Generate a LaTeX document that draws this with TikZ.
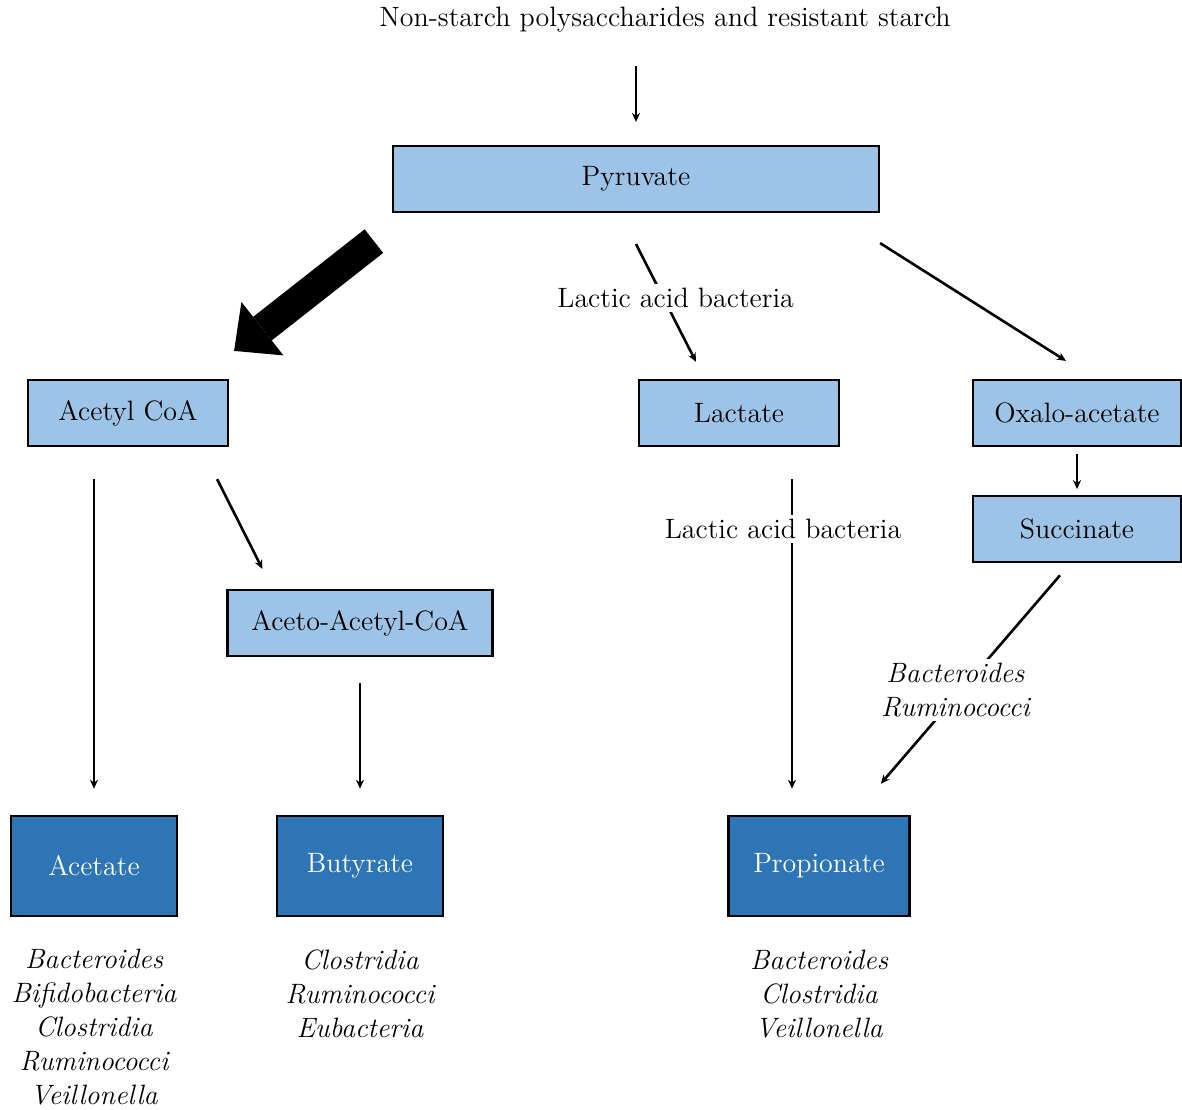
\documentclass[tikz,border=0pt]{standalone}
\usepackage{xcolor}
\usepackage{tikz}
\usetikzlibrary{arrows.meta, positioning, calc}
\definecolor{lightbox}{HTML}{9DC3E6}
\definecolor{darkbox}{HTML}{2E75B6}

\begin{document}
\begin{tikzpicture}[
        x=0.5pt, y=-0.5pt,
        every node/.style={font=\fontsize{14}{17}\selectfont},
        inter/.style={draw, line width=1.1pt, rectangle, minimum height=33pt, align=center, fill=lightbox},
        product/.style={draw, line width=1.3pt, rectangle, minimum height=50pt, align=center, fill=darkbox, text=white},
        bugs/.style={align=center, font=\fontsize{14}{17}\selectfont\itshape},
        lbl/.style={fill=white, inner sep=2pt},
        arr/.style={-{Stealth[length=4.5pt, width=4pt]}, line width=1.3pt},
        bigarr/.style={-{Triangle[length=18pt, width=34pt, line width=0pt]}, line width=15pt}
    ]
        \useasboundingbox (0,0) rectangle (1182,1109);

        \node (src) at (665,20) {Non-starch polysaccharides and resistant starch};
        \node[inter, minimum width=243pt] (pyr) at (636,179) {Pyruvate};
        \node[inter, minimum width=100pt] (acetyl) at (128,413) {Acetyl CoA};
        \node[inter, minimum width=100pt] (lact) at (739,413) {Lactate};
        \node[inter, minimum width=104pt] (oxa) at (1077,413) {Oxalo-acetate};
        \node[inter, minimum width=104pt, below=24pt of oxa] (succ) {Succinate};
        \node[inter, minimum width=132.5pt] (aceto) at (360,623) {Aceto-Acetyl-CoA};

        \node[product, minimum width=83pt] (acetate) at (94,866) {Acetate};
        \node[product, minimum width=83pt] (butyr) at (360,866) {Butyrate};
        \node[product, minimum width=90.5pt] (prop) at (819,866) {Propionate};

        \node[bugs] (acetbugs) at (94,1027) {Bacteroides\\Bifidobacteria\\Clostridia\\Ruminococci\\Veillonella};
        \node[bugs] (butbugs) at (360,994) {Clostridia\\Ruminococci\\Eubacteria};
        \node[bugs] (propbugs) at (819,994) {Bacteroides\\Clostridia\\Veillonella};

        \draw[arr, shorten <=13pt, shorten >=11.5pt] (src.south -| pyr.north) -- (pyr.north);
        \draw[bigarr] ($(pyr.south west)+(-18,28)$) -- ($(acetyl.north east)+(5,-28)$);
        \draw[arr] ($(pyr.south)+(0,31)$) -- node[lbl, pos=0.46, xshift=6pt] {Lactic acid bacteria} ($(lact.north)+(-43,-17)$);
        \draw[arr] ($(pyr.south east)+(0,30)$) -- ($(oxa.north)+(-11,-18)$);
        \draw[arr] ($(oxa.south)+(0,7)$) -- ($(succ.north)+(0,-6)$);

        \draw[arr] ($(acetyl.south -| acetate.north)+(0,32)$) -- ($(acetate.north)+(0,-26)$);
        \draw[arr] ($(acetyl.south east)+(-12,32)$) -- ($(aceto.north west)+(36,-20)$);
        \draw[arr] ($(aceto.south)+(0,26)$) -- ($(butyr.north)+(0,-26)$);
        \draw[arr] ($(lact.south)+(53,32)$) -- node[lbl, pos=0.16, xshift=-4.5pt] {Lactic acid bacteria} ($(prop.north)+(-27,-26)$);
        \draw[arr] ($(succ.south)+(-17,12)$) -- node[lbl, bugs, pos=0.55, xshift=-3pt] {Bacteroides\\Ruminococci} ($(prop.north east)+(-30,-31)$);
    \end{tikzpicture}
\end{document}
